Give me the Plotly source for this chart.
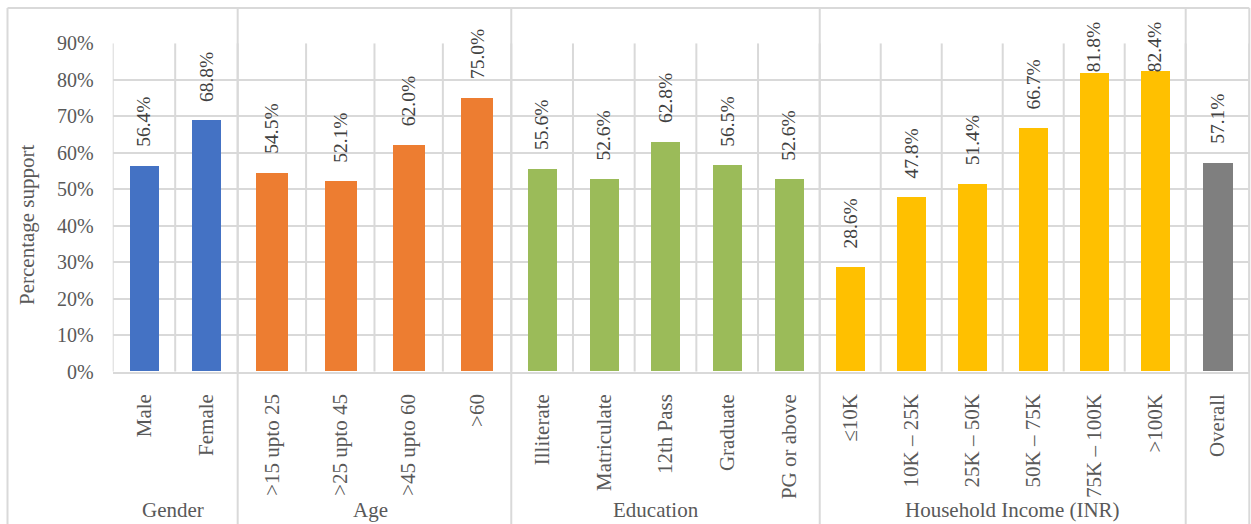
import plotly.graph_objects as go

# ---- data -------------------------------------------------------------
groups = ["Gender", "Age", "Education", "Household Income (INR)", ""]
group_sizes = [2, 4, 5, 6, 1]
categories = [
    "Male", "Female",
    ">15 upto 25", ">25 upto 45", ">45 upto 60", ">60",
    "Illiterate", "Matriculate", "12th Pass", "Graduate", "PG or above",
    "≤10K", "10K – 25K", "25K – 50K", "50K – 75K", "75K – 100K", ">100K",
    "Overall",
]
support = [56.4, 68.8,
           54.5, 52.1, 62.0, 75.0,
           55.6, 52.6, 62.8, 56.5, 52.6,
           28.6, 47.8, 51.4, 66.7, 81.8, 82.4,
           57.1]
y_ticks = [0, 10, 20, 30, 40, 50, 60, 70, 80, 90]

# ---- style ------------------------------------------------------------
W, H = 1251, 524
group_colors = ["#4472C4", "#ED7D31", "#9BBB59", "#FFC000", "#7F7F7F"]
slot_width = [62.5, 68.4, 61.7, 61.0, 63.6]   # horizontal room per category in each block
group_label_nudge = [-2, -4, -10, 10, 0]       # px offset of each block caption
bar_fill = 0.47
FONT = "Liberation Serif"
TEXT = "#595959"
LABEL = "#404040"
GRID = "#D9D9D9"
LW = 2

plot_left, plot_right = 112.7, 1249.3
plot_top, plot_bottom = 43.3, 371.7
frame_left, frame_top = 7.5, 8.0


def px(x):
    return x / W


def py(y):
    return 1 - y / H


# lay out category slots block by block
xs, widths, colors, edges, group_edges = [], [], [], [0.0], [0.0]
pos = 0.0
for n, sw, col in zip(group_sizes, slot_width, group_colors):
    for _ in range(n):
        xs.append(pos + sw / 2)
        widths.append(sw * bar_fill)
        colors.append(col)
        pos += sw
        edges.append(pos)
    group_edges.append(pos)

fig = go.Figure()
fig.add_trace(go.Bar(
    x=xs, y=support, width=widths,
    marker=dict(color=colors, line=dict(width=0)),
    hoverinfo="skip", showlegend=False,
))

annotations = []
# value labels above each bar (kept inside the chart near the top)
unit_px = (plot_bottom - plot_top) / 90.0
label_gap = 17
label_len = 50
top_limit = 20
for x, v in zip(xs, support):
    top_px = plot_bottom - v * unit_px - label_gap - label_len
    common = dict(x=x, xref="x", text=f"{v:.1f}%", textangle=-90,
                  showarrow=False, font=dict(family=FONT, size=19.5, color=LABEL),
                  xanchor="center")
    if top_px < top_limit:
        annotations.append(dict(**common, y=py(top_limit), yref="paper", yanchor="top"))
    else:
        annotations.append(dict(**common, y=v, yref="y", yanchor="bottom", yshift=label_gap))

# block captions under the category labels
for g, a, b, dx in zip(groups, group_edges[:-1], group_edges[1:], group_label_nudge):
    if g:
        annotations.append(dict(x=(a + b) / 2, xref="x", xshift=dx, y=py(510), yref="paper",
                                text=g, showarrow=False, xanchor="center", yanchor="middle",
                                font=dict(family=FONT, size=21, color=TEXT)))

# axis title
annotations.append(dict(x=px(27), y=py(225), xref="paper", yref="paper",
                        text="Percentage support", textangle=-90, showarrow=False,
                        xanchor="center", yanchor="middle",
                        font=dict(family=FONT, size=21, color=TEXT)))

shapes = []
line = dict(color=GRID, width=LW)
# vertical lines between categories inside the plot
for e in edges:
    shapes.append(dict(type="line", xref="x", yref="y", x0=e, x1=e, y0=0, y1=90,
                       line=line, layer="below"))
# block separators run the full height of the frame
for e in group_edges[1:-1]:
    shapes.append(dict(type="line", xref="x", yref="paper", x0=e, x1=e,
                       y0=0, y1=py(frame_top), line=line, layer="below"))
# outer frame
shapes.append(dict(type="line", xref="paper", yref="paper", x0=px(frame_left), x1=px(frame_left),
                   y0=0, y1=py(frame_top), line=line))
shapes.append(dict(type="line", xref="paper", yref="paper", x0=px(frame_left), x1=px(plot_right),
                   y0=py(frame_top), y1=py(frame_top), line=line))
shapes.append(dict(type="line", xref="paper", yref="paper", x0=px(plot_right), x1=px(plot_right),
                   y0=0, y1=py(frame_top), line=line))

fig.update_layout(
    width=W, height=H, autosize=False,
    margin=dict(l=0, r=0, t=0, b=0, pad=0),
    paper_bgcolor="white", plot_bgcolor="white",
    bargap=0,
    annotations=annotations,
    shapes=shapes,
    xaxis=dict(
        domain=[px(plot_left), px(plot_right)],
        range=[0, pos],
        automargin=False,
        tickmode="array", tickvals=xs, ticktext=categories,
        tickangle=-90, ticks="", showgrid=False, zeroline=False,
        showline=True, linecolor=GRID, linewidth=LW,
        ticklabelstandoff=12,
        tickfont=dict(family=FONT, size=21, color=TEXT),
        fixedrange=True,
    ),
    yaxis=dict(
        domain=[py(plot_bottom), py(plot_top)],
        range=[0, 90],
        automargin=False,
        tickmode="array", tickvals=y_ticks, ticktext=[f"{t}%" for t in y_ticks],
        showgrid=True, gridcolor=GRID, gridwidth=LW,
        zeroline=False, showline=False, ticks="",
        ticklabelstandoff=18,
        tickfont=dict(family=FONT, size=20, color=TEXT),
        fixedrange=True,
    ),
)

fig.write_html("out.html")
